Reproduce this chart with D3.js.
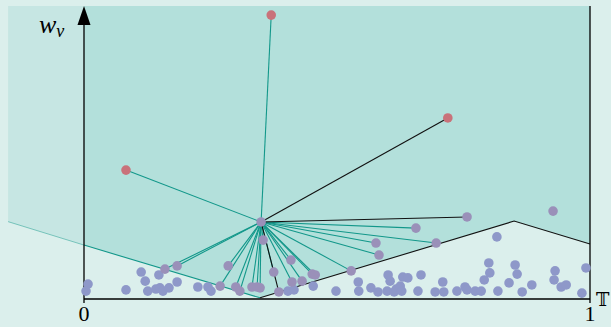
<!DOCTYPE html>
<html>
<head>
<meta charset="utf-8">
<script src="https://cdn.jsdelivr.net/npm/d3@7"></script>
<style>
  html, body { margin: 0; padding: 0; background: #dbefec; }
  svg { display: block; }
</style>
</head>
<body>
<svg id="chart" width="611" height="327"></svg>
<script>
// Normalised time on x (0..1), weight w_v on y (0..1).
const xTicks = [0, 1];

// Lower envelope of the weight functions: teal part, then black part.
const envTealX = [-0.150, 0, 0.348];
const envTealY = [0.264, 0.184, 0.004];
const envBlackX = [0.348, 0.850, 1];
const envBlackY = [0.004, 0.266, 0.188];

// Central vertex that all the links fan out from.
const hubX = 0.350, hubY = 0.263;

// Highlighted (red) vertices.
const redX = [0.370, 0.719, 0.083];
const redY = [0.969, 0.618, 0.440];
const redLink = ["teal", "black", "teal"];

// Vertices above the envelope, linked to the hub.
const upX = [0.160, 0.184, 0.269, 0.285, 0.300, 0.308, 0.332, 0.342, 0.348, 0.354, 0.375, 0.409, 0.411, 0.431, 0.451, 0.457, 0.528, 0.577, 0.583, 0.656, 0.696, 0.757, 0.385];
const upY = [0.102, 0.113, 0.044, 0.113, 0.041, 0.027, 0.041, 0.041, 0.038, 0.201, 0.092, 0.133, 0.058, 0.061, 0.085, 0.082, 0.096, 0.191, 0.150, 0.242, 0.191, 0.280, 0.024];
const upLink = ["teal","teal","teal","teal","teal","teal","teal","teal","teal","teal","teal","teal","teal","teal","teal","teal","teal","teal","teal","teal","teal","black","black"];

// Vertex above the envelope without a link.
const loneX = [0.927], loneY = [0.300];

// Remaining vertices, below the envelope.
const lowX = [0.008, 0.004, 0.083, 0.113, 0.121, 0.126, 0.148, 0.142, 0.150, 0.156, 0.168, 0.184, 0.225, 0.245, 0.251,
  0.403, 0.415, 0.453, 0.498, 0.542, 0.543, 0.567, 0.581, 0.601, 0.605, 0.599, 0.613, 0.617, 0.625, 0.630, 0.640, 0.628,
  0.666, 0.660, 0.694, 0.709, 0.711, 0.737, 0.753, 0.757, 0.773, 0.785, 0.791, 0.802, 0.800, 0.818, 0.816,
  0.840, 0.852, 0.856, 0.866, 0.885, 0.929, 0.931, 0.943, 0.953, 0.984, 0.992];
const lowY = [0.051, 0.027, 0.031, 0.092, 0.061, 0.027, 0.082, 0.034, 0.038, 0.027, 0.038, 0.058, 0.041, 0.041, 0.027,
  0.027, 0.031, 0.044, 0.027, 0.058, 0.027, 0.038, 0.024, 0.082, 0.061, 0.027, 0.024, 0.034, 0.044, 0.075, 0.072, 0.027,
  0.082, 0.027, 0.024, 0.058, 0.024, 0.027, 0.041, 0.031, 0.027, 0.027, 0.065, 0.089, 0.123, 0.027, 0.212,
  0.055, 0.116, 0.085, 0.024, 0.048, 0.065, 0.096, 0.041, 0.048, 0.020, 0.106];

const C = {
  bg: "#dbefec", light: "#c6e6e3", dark: "#b3e0db",
  teal: "#12978a", black: "#111",
  red: "#c9727a", up: "#9a90b9", low: "#8e98c9"
};

const svg = d3.select("#chart");
const x = d3.scaleLinear().domain([0, 1]).range([84, 590]);
const y = d3.scaleLinear().domain([0, 1]).range([299, 6]);

// Shaded regions above the envelope.
const area = d3.area().x(d => x(d[0])).y0(y(1)).y1(d => y(d[1]));
svg.append("path")
  .datum([[envTealX[0], envTealY[0]], [envTealX[1], envTealY[1]]])
  .attr("d", area).attr("fill", C.light);
const envPts = envTealX.slice(1).map((v, i) => [v, envTealY[i + 1]])
  .concat(envBlackX.slice(1).map((v, i) => [v, envBlackY[i + 1]]));
svg.append("path").datum(envPts).attr("d", area).attr("fill", C.dark);

// Envelope lines.
const line = d3.line().x(d => x(d[0])).y(d => y(d[1]));
svg.append("path")
  .datum([[envTealX[0], envTealY[0]], [envTealX[1], envTealY[1]]])
  .attr("d", line).attr("fill", "none").attr("stroke", C.teal)
  .attr("stroke-width", 0.8).attr("stroke-opacity", 0.6);
svg.append("path")
  .datum([[envTealX[1], envTealY[1]], [envTealX[2], envTealY[2]]])
  .attr("d", line).attr("fill", "none").attr("stroke", C.teal).attr("stroke-width", 1.1);
svg.append("path")
  .datum(envBlackX.map((v, i) => [v, envBlackY[i]]))
  .attr("d", line).attr("fill", "none").attr("stroke", C.black).attr("stroke-width", 1.1);

// Links from the hub.
const links = redX.map((v, i) => ({ x: v, y: redY[i], c: redLink[i] }))
  .concat(upX.map((v, i) => ({ x: v, y: upY[i], c: upLink[i] })));
svg.append("g").selectAll("line").data(links).join("line")
  .attr("x1", x(hubX)).attr("y1", y(hubY))
  .attr("x2", d => x(d.x)).attr("y2", d => y(d.y))
  .attr("stroke", d => d.c === "teal" ? C.teal : C.black)
  .attr("stroke-width", 1.1);

// Axes.
const axes = svg.append("g").attr("stroke", "#000").attr("stroke-width", 1.3).attr("fill", "none");
axes.append("line").attr("x1", x(0)).attr("x2", x(1)).attr("y1", y(0)).attr("y2", y(0));
axes.append("line").attr("x1", x(0)).attr("x2", x(0)).attr("y1", y(0) + 4).attr("y2", y(1) + 18);
axes.append("line").attr("x1", x(1)).attr("x2", x(1)).attr("y1", y(0) + 4).attr("y2", y(1));
svg.append("path")
  .attr("d", `M${x(0)},${y(1)} L${x(0) - 6.5},${y(1) + 19} L${x(0) + 6.5},${y(1) + 19} Z`)
  .attr("fill", "#000");

// Vertices.
const dot = (xs, ys, fill) => svg.append("g").selectAll("circle")
  .data(xs.map((v, i) => [v, ys[i]])).join("circle")
  .attr("cx", d => x(d[0])).attr("cy", d => y(d[1])).attr("r", 4.8).attr("fill", fill);
dot(lowX, lowY, C.low);
dot(upX, upY, C.up);
dot(loneX, loneY, C.up);
dot([hubX], [hubY], C.up);
dot(redX, redY, C.red);

// Labels.
const font = "'Liberation Serif', 'DejaVu Serif', serif";
svg.selectAll("text.tick").data(xTicks).join("text")
  .attr("class", "tick").attr("x", d => x(d)).attr("y", 321)
  .attr("text-anchor", "middle").attr("font-family", font).attr("font-size", 22)
  .text(d => d);
svg.append("text").attr("x", 596).attr("y", 306)
  .attr("font-family", "'DejaVu Serif', serif").attr("font-size", 18).text("𝕋");
const wl = svg.append("text").attr("x", 39).attr("y", 33)
  .attr("font-family", font).attr("font-size", 26).attr("font-style", "italic");
wl.append("tspan").text("w");
wl.append("tspan").attr("font-size", 18).attr("dy", 4).text("v");
</script>
</body>
</html>
